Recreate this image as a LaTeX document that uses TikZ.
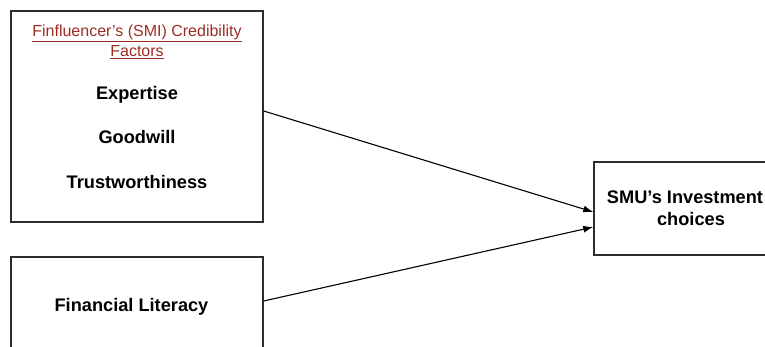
\documentclass[tikz,border=0pt]{standalone}
\usepackage{fontspec}
\setmainfont{Liberation Sans}
\usetikzlibrary{arrows.meta}
\definecolor{titlered}{RGB}{155,45,35}
\definecolor{boxline}{RGB}{45,45,45}
\begin{document}
\begin{tikzpicture}[x=1pt,y=-1pt,
  box/.style={draw=boxline,line width=1.4pt,rectangle,inner sep=0pt},
  lbl/.style={anchor=base,inner sep=0pt,font=\fontsize{18.2}{21}\selectfont\bfseries},
  ttl/.style={anchor=base,inner sep=0pt,text=titlered,font=\fontsize{16}{21}\selectfont},
  arr/.style={draw=black,line width=1.1pt,-{Latex[length=10pt,width=7pt]}}]
\useasboundingbox (0,0) rectangle (765,347);
\clip (0,0) rectangle (765,347);
\node[box,minimum width=252pt,minimum height=211pt] (b1) at (137,116.5) {};
\node[box,minimum width=252pt,minimum height=100pt] (b2) at (137,307) {};
\node[box,minimum width=198pt,minimum height=93pt] (b3) at (693,208.5) {};
\node[ttl] (t1) at (137,36.5) {\underline{Finfluencer’s (SMI) Credibility}};
\node[ttl] (t2) at (137,57) {\underline{Factors}};
\node[lbl] (e) at (137,100) {Expertise};
\node[lbl] (g) at (137,144) {Goodwill};
\node[lbl] (tw) at (137,189) {Trustworthiness};
\node[lbl] (fl) at (131.5,311) {Financial Literacy};
\node[lbl] (s1) at (685,204) {SMU’s Investment};
\node[lbl] (s2) at (691,226) {choices};
\draw[arr] (b1.east |- 0,111) -- (b3.west |- 0,212);
\draw[arr] (b2.east |- 0,301) -- (b3.west |- 0,227);
\end{tikzpicture}
\end{document}
